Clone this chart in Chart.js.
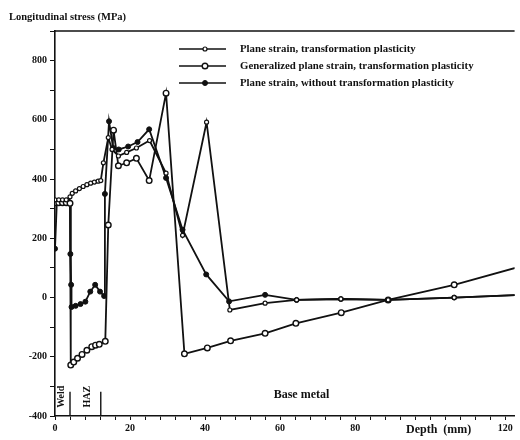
<!DOCTYPE html>
<html>
<head>
<meta charset="utf-8">
<script src="https://cdn.jsdelivr.net/npm/chart.js@4.4.1/dist/chart.umd.min.js"></script>
<style>
  body { margin: 0; background: #fff; }
  #wrap { width: 520px; height: 440px; }
</style>
</head>
<body>
<div id="wrap"><canvas id="grafico" width="520" height="440"></canvas></div>
<script>
// Plane strain, transformation plasticity
const psDepth = [0, 1, 2, 3, 4, 4.6, 5.5, 6.5, 7.5, 8.5, 9.5, 10.5, 11.5, 12.2, 12.9, 14.2, 15.2, 16.9, 19.1, 21.7, 25.2, 29.6, 34, 40.4, 46.6, 56, 64.4, 76.2, 88.8, 106.4, 125];
const psStress = [330, 330, 330, 330, 340, 352, 360, 368, 375, 381, 386, 390, 393, 395, 455, 540, 500, 478, 490, 505, 530, 420, 210, 592, -42, -19, -8, -5, -8, 0, 9];

// Generalized plane strain, transformation plasticity
const gpsDepth = [0, 1, 2, 3, 4, 4.2, 5, 6, 7.2, 8.5, 9.8, 10.8, 11.8, 13.4, 14.2, 15.6, 16.9, 19.1, 21.7, 25.1, 29.6, 34.5, 40.6, 46.8, 56, 64.2, 76.3, 88.8, 106.4, 125];
const gpsStress = [320, 320, 320, 320, 318, -228, -218, -205, -192, -178, -166, -161, -158, -148, 245, 565, 445, 455, 470, 395, 690, -190, -170, -146, -121, -87, -51, -8, 43, 108];

// Plane strain, without transformation plasticity
const noTpDepth = [0, 0.5, 1.5, 2.5, 3.5, 4.0, 4.1, 4.3, 4.4, 5.5, 6.8, 8.1, 9.4, 10.7, 12, 13.1, 13.3, 14.4, 15.5, 17, 19.5, 22, 25.1, 29.6, 34, 40.3, 46.4, 56, 64.4, 76.2, 88.8, 106.4, 125];
const noTpStress = [165, 325, 325, 325, 325, 320, 147, 43, -32, -28, -22, -14, 20, 43, 20, 5, 350, 595, 505, 500, 510, 525, 568, 404, 229, 78, -13, 9, -8, -5, -8, 0, 9];

const seriesNames = [
    "Plane strain, transformation plasticity",
    "Generalized plane strain, transformation plasticity",
    "Plane strain, without transformation plasticity"
];

// zone limits (mm) and labels along the bottom
const zoneLimits = [4, 12.2];
const zoneLabels = ["Weld", "HAZ"];
const zoneLabelDepth = [1.8, 8.6];
const baseMetalDepth = 65.7;

const xLabels = [0, 20, 40, 60, 80, 120];
const yLabels = [-400, -200, 0, 200, 400, 600, 800];

const ink = "#111";
const serif = "'Liberation Serif', 'DejaVu Serif', serif";

function pares(xs, ys) {
    return xs.map((x, i) => ({ x: x, y: ys[i] }));
}

// draws the frame top, legend, titles and zone marks
const extras = {
    id: "extras",
    afterDraw(chart) {
        const ctx = chart.ctx;
        const area = chart.chartArea;
        const xs = chart.scales.x;
        const ys = chart.scales.y;
        ctx.save();
        ctx.strokeStyle = ink;
        ctx.fillStyle = ink;

        // top frame line
        ctx.lineWidth = 1.6;
        ctx.beginPath();
        ctx.moveTo(area.left, area.top);
        ctx.lineTo(area.right, area.top);
        ctx.stroke();

        // y title
        ctx.font = "bold 10.5px " + serif;
        ctx.textAlign = "left";
        ctx.textBaseline = "middle";
        ctx.fillText("Longitudinal stress (MPa)", 9, 17);

        // x title
        ctx.font = "bold 12px " + serif;
        ctx.fillText("Depth  (mm)", 406, 430);

        // zone separators
        ctx.lineWidth = 1.4;
        zoneLimits.forEach(d => {
            const px = xs.getPixelForValue(d);
            ctx.beginPath();
            ctx.moveTo(px, ys.getPixelForValue(-318));
            ctx.lineTo(px, area.bottom);
            ctx.stroke();
        });
        ctx.font = "bold 10px " + serif;
        ctx.textAlign = "center";
        zoneLabels.forEach((t, i) => {
            ctx.save();
            ctx.translate(xs.getPixelForValue(zoneLabelDepth[i]), ys.getPixelForValue(-335));
            ctx.rotate(-Math.PI / 2);
            ctx.fillText(t, 0, 0);
            ctx.restore();
        });
        ctx.font = "bold 12px " + serif;
        ctx.fillText("Base metal", xs.getPixelForValue(baseMetalDepth), ys.getPixelForValue(-330));

        // legend
        ctx.textAlign = "left";
        ctx.font = "bold 10.8px " + serif;
        chart.data.datasets.forEach((ds, i) => {
            const y = 49 + i * 17;
            ctx.lineWidth = 1.7;
            ctx.beginPath();
            ctx.moveTo(179, y);
            ctx.lineTo(226, y);
            ctx.stroke();
            ctx.beginPath();
            ctx.arc(205, y, ds.pointRadius, 0, Math.PI * 2);
            ctx.fillStyle = ds.pointBackgroundColor;
            ctx.fill();
            ctx.lineWidth = ds.pointBorderWidth;
            ctx.stroke();
            ctx.fillStyle = ink;
            ctx.fillText(ds.label, 240, y);
        });
        ctx.restore();
    }
};

function desenharGrafico() {
    new Chart(document.getElementById("grafico"), {
        type: "scatter",
        data: {
            datasets: [{
                label: seriesNames[0],
                data: pares(psDepth, psStress),
                showLine: true,
                borderColor: ink,
                borderWidth: 1.8,
                pointRadius: 2,
                pointBorderWidth: 1.2,
                pointBackgroundColor: "#fff",
                pointBorderColor: ink
            }, {
                label: seriesNames[1],
                data: pares(gpsDepth, gpsStress),
                showLine: true,
                borderColor: ink,
                borderWidth: 1.8,
                pointRadius: 2.8,
                pointBorderWidth: 1.4,
                pointBackgroundColor: "#fff",
                pointBorderColor: ink
            }, {
                label: seriesNames[2],
                data: pares(noTpDepth, noTpStress),
                showLine: true,
                borderColor: ink,
                borderWidth: 1.8,
                pointRadius: 2.5,
                pointBorderWidth: 1,
                pointBackgroundColor: ink,
                pointBorderColor: ink
            }]
        },
        options: {
            responsive: false,
            animation: false,
            devicePixelRatio: 1,
            layout: { padding: { top: 31, left: 0, right: 0, bottom: 0 } },
            plugins: {
                legend: { display: false },
                tooltip: { enabled: false }
            },
            scales: {
                x: {
                    type: "linear",
                    min: 0,
                    max: 122.5,
                    afterFit: s => { s.height = 24; },
                    border: { display: true, color: ink, width: 1.6 },
                    grid: { drawOnChartArea: false, color: ink, tickLength: 4, lineWidth: 1 },
                    ticks: {
                        stepSize: 4,
                        includeBounds: false,
                        autoSkip: false,
                        maxRotation: 0,
                        padding: 2,
                        color: ink,
                        font: { family: serif, size: 10, weight: "bold" },
                        callback: v => xLabels.includes(v) ? v : ""
                    }
                },
                y: {
                    type: "linear",
                    min: -400,
                    max: 900,
                    afterFit: s => { s.width = 55; },
                    border: { display: true, color: ink, width: 1.6 },
                    grid: { drawOnChartArea: false, color: ink, tickLength: 5, lineWidth: 1 },
                    ticks: {
                        stepSize: 100,
                        includeBounds: false,
                        autoSkip: false,
                        padding: 3,
                        color: ink,
                        font: { family: serif, size: 10, weight: "bold" },
                        callback: v => yLabels.includes(v) ? v : ""
                    }
                }
            }
        },
        plugins: [extras]
    });
}

desenharGrafico();
</script>
</body>
</html>
